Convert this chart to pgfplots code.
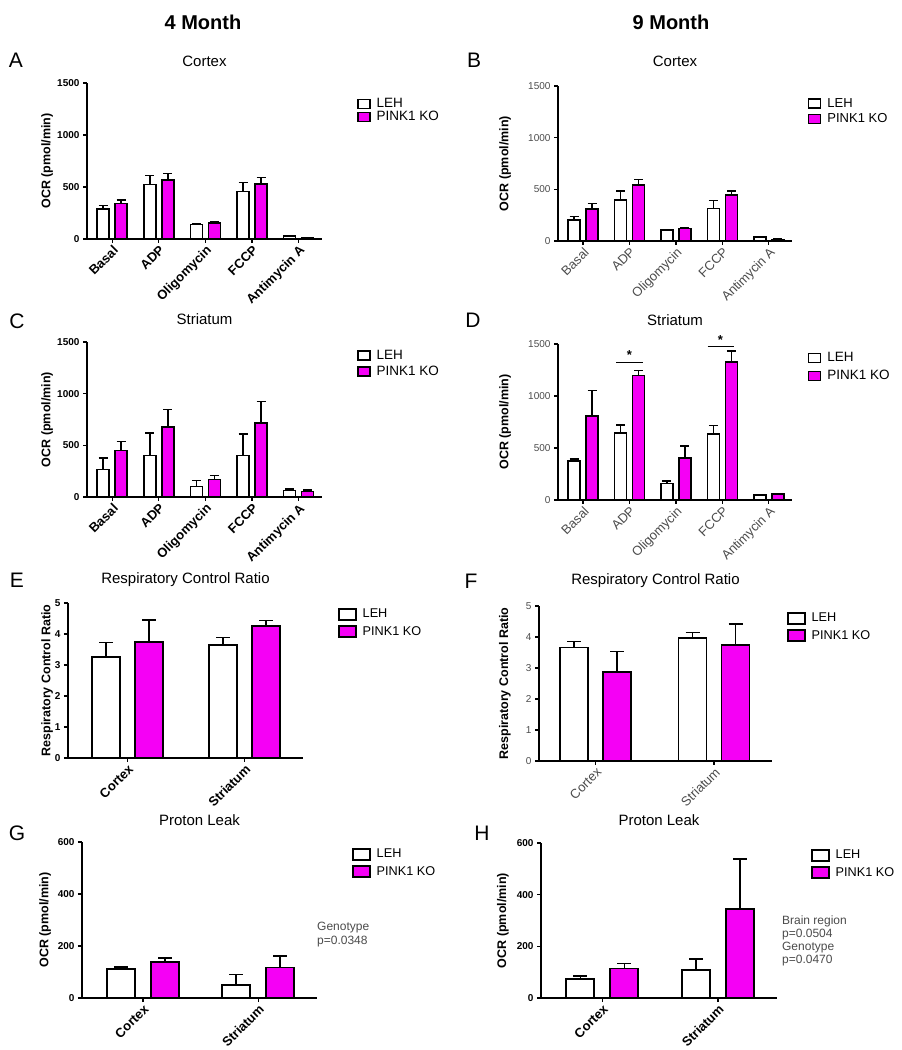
\documentclass[border=0pt]{standalone}
\usepackage{fontspec}
\setmainfont{Liberation Sans}
\usepackage{pgfplots}
\pgfplotsset{compat=1.18}
\definecolor{pk}{RGB}{245,0,245}
\definecolor{lg}{RGB}{75,75,75}
\newcommand{\fsz}[1]{\fontsize{#1}{#1}\selectfont}
\pgfplotsset{
 panel/.style={
  scale only axis, anchor=south west, ybar, clip=false,
  axis x line*=bottom, axis y line*=left,
  x axis line style={-}, y axis line style={-},
  axis line style={line width=1.5pt, black},
  tick style={black, line width=1.2pt},
  tick align=outside, major tick length=4pt,
  ymin=0,
  /pgf/number format/assume math mode=true,
  /pgf/number format/1000 sep={},
  ylabel style={font=\fsz{12.5}\bfseries, anchor=center},
  title style={font=\fsz{15}, anchor=center, yshift=-6pt},
  legend style={draw=none, fill=none, inner sep=0pt, anchor=north west, cells={anchor=west},
    /tikz/every odd column/.append style={column sep=4pt}},
  legend cell align=left,
  error bars/y dir=plus, error bars/y explicit,
  error bars/error bar style={line width=1.4pt, black},
  error bars/error mark options={rotate=90, line width=1.4pt, mark size=4.5pt, black},
 },
 lehA/.style={fill=white, draw=black, line width=1.5pt,
   legend image code/.code={\draw[##1, line width=1.3pt] (0pt,-4.5pt) rectangle (12pt,4.5pt);}},
 pkoA/.style={fill=pk, draw=black, line width=1.5pt,
   legend image code/.code={\draw[##1, line width=1.3pt] (0pt,-4.5pt) rectangle (12pt,4.5pt);}},
 lehE/.style={fill=white, draw=black, line width=1.8pt,
   legend image code/.code={\draw[##1, line width=1.5pt] (0pt,-5.5pt) rectangle (17pt,5.5pt);}},
 pkoE/.style={fill=pk, draw=black, line width=1.8pt,
   legend image code/.code={\draw[##1, line width=1.5pt] (0pt,-5.5pt) rectangle (17pt,5.5pt);}},
 boldlab/.style={
   xticklabel style={rotate=45, anchor=north east, font=\fsz{13}\bfseries, inner sep=1pt},
   yticklabel style={font=\fsz{10}\bfseries}},
 thinlab/.style={
   xticklabel style={rotate=45, anchor=north east, font=\fsz{13}, text=lg, inner sep=1pt},
   yticklabel style={font=\fsz{10}, text=lg}},
 ocr/.style={xmin=-0.54, xmax=4.5, ymax=1500, ytick={0,500,1000,1500},
   xtick={0,...,4}, xticklabels={Basal,ADP,Oligomycin,FCCP,Antimycin A},
   bar width=12pt, ylabel={OCR (pmol/min)}},
 two/.style={xtick={0,1}, xticklabels={Cortex,Striatum}, bar width=28pt,
   error bars/error mark options={rotate=90, line width=1.6pt, mark size=7pt, black},
   error bars/error bar style={line width=1.6pt, black}},
}
\begin{document}
\begin{tikzpicture}
\path[use as bounding box] (0pt,0pt) rectangle (902pt,1050pt);
\node[font=\fsz{20}\bfseries] at (203pt,1028pt) {4 Month};
\node[font=\fsz{20}\bfseries] at (671pt,1028pt) {9 Month};
\node[font=\fsz{21}] at (16pt,990pt) {A};
\node[font=\fsz{21}] at (474pt,990pt) {B};
\node[font=\fsz{21}] at (17pt,729pt) {C};
\node[font=\fsz{21}] at (473pt,730pt) {D};
\node[font=\fsz{21}] at (17pt,470pt) {E};
\node[font=\fsz{21}] at (471pt,469pt) {F};
\node[font=\fsz{21}] at (17pt,217pt) {G};
\node[font=\fsz{21}] at (482pt,217pt) {H};

% A
\begin{axis}[panel, ocr, boldlab, at={(87pt,811pt)}, width=235pt, height=156pt,
  title={Cortex}, title style={at={(0.5,1.141)}},
  ylabel style={at={(axis description cs:-0.17,0.5)}},
  legend style={at={(1.149,0.915)}, font=\fsz{13.5}, row sep=-2pt}]
\addplot[lehA, bar shift=-9pt] coordinates {(0,290) +- (0,30) (1,525) +- (0,83) (2,140) +- (0,10) (3,455) +- (0,88) (4,30) +- (0,5)};
\addplot[pkoA, bar shift=9pt] coordinates {(0,340) +- (0,35) (1,565) +- (0,65) (2,155) +- (0,15) (3,530) +- (0,60) (4,12) +- (0,4)};
\legend{LEH, PINK1 KO}
\end{axis}

% B
\begin{axis}[panel, ocr, thinlab, at={(558pt,809pt)}, width=234pt, height=155pt,
  title={Cortex}, title style={at={(0.5,1.161)}},
  ylabel style={at={(axis description cs:-0.226,0.5)}},
  legend style={at={(1.068,0.935)}, font=\fsz{13}, row sep=1pt}]
\addplot[lehA, bar shift=-9pt] coordinates {(0,203) +- (0,32) (1,395) +- (0,90) (2,106) +- (0,6) (3,315) +- (0,74) (4,40) +- (0,4)};
\addplot[pkoA, bar shift=9pt] coordinates {(0,309) +- (0,54) (1,540) +- (0,55) (2,122) +- (0,6) (3,444) +- (0,38) (4,15) +- (0,3)};
\legend{LEH, PINK1 KO}
\end{axis}

% C
\begin{axis}[panel, ocr, boldlab, at={(87pt,553pt)}, width=235pt, height=155pt,
  title={Striatum}, title style={at={(0.5,1.148)}},
  ylabel style={at={(axis description cs:-0.17,0.5)}},
  legend style={at={(1.149,0.961)}, font=\fsz{13.5}, row sep=1pt}]
\addplot[lehA, bar shift=-9pt] coordinates {(0,265) +- (0,112) (1,403) +- (0,216) (2,103) +- (0,58) (3,403) +- (0,207) (4,61) +- (0,16)};
\addplot[pkoA, bar shift=9pt] coordinates {(0,448) +- (0,91) (1,677) +- (0,168) (2,168) +- (0,42) (3,716) +- (0,210) (4,55) +- (0,13)};
\legend{LEH, PINK1 KO}
\end{axis}

% D
\begin{axis}[panel, ocr, thinlab, at={(558pt,550pt)}, width=234pt, height=156pt,
  title={Striatum}, title style={at={(0.5,1.154)}},
  ylabel style={at={(axis description cs:-0.226,0.5)}},
  legend style={at={(1.068,0.96)}, font=\fsz{13.5}, row sep=3pt}]
\addplot[lehA, bar shift=-9pt] coordinates {(0,376) +- (0,19) (1,643) +- (0,80) (2,161) +- (0,22) (3,633) +- (0,81) (4,48) +- (0,4)};
\addplot[pkoA, bar shift=9pt] coordinates {(0,810) +- (0,245) (1,1196) +- (0,48) (2,402) +- (0,119) (3,1325) +- (0,106) (4,58) +- (0,4)};
\legend{LEH, PINK1 KO}
\draw[line width=1.3pt] (axis cs:0.713,1325) -- (axis cs:1.296,1325);
\draw[line width=1.3pt] (axis cs:2.68,1478) -- (axis cs:3.24,1478);
\node[font=\fsz{13}\bfseries] at (axis cs:1.0,1395) {*};
\node[font=\fsz{13}\bfseries] at (axis cs:2.96,1540) {*};
\end{axis}

% E
\begin{axis}[panel, two, boldlab, at={(68pt,292pt)}, width=235pt, height=155pt,
  xmin=-0.51, xmax=1.5, ymax=5, ytick={0,1,2,3,4,5},
  title={Respiratory Control Ratio}, title style={at={(0.5,1.148)}},
  ylabel={Respiratory Control Ratio}, ylabel style={at={(axis description cs:-0.089,0.5)}},
  legend style={at={(1.149,0.974)}, font=\fsz{12.7}, row sep=3pt}]
\addplot[lehE, bar shift=-21.5pt] coordinates {(0,3.27) +- (0,0.46) (1,3.64) +- (0,0.25)};
\addplot[pkoE, bar shift=21.5pt] coordinates {(0,3.75) +- (0,0.71) (1,4.25) +- (0,0.19)};
\legend{LEH, PINK1 KO}
\end{axis}

% F
\begin{axis}[panel, two, thinlab, at={(539pt,289pt)}, width=233pt, height=155pt,
  xmin=-0.48, xmax=1.49, ymax=5, ytick={0,1,2,3,4,5},
  title={Respiratory Control Ratio}, title style={at={(0.5,1.161)}},
  ylabel={Respiratory Control Ratio}, ylabel style={at={(axis description cs:-0.146,0.5)}},
  legend style={at={(1.064,0.968)}, font=\fsz{12.7}, row sep=3pt}]
\addplot[lehE, bar shift=-21.5pt] coordinates {(0,3.66) +- (0,0.19) (1,3.98) +- (0,0.16)};
\addplot[pkoE, bar shift=21.5pt] coordinates {(0,2.88) +- (0,0.65) (1,3.74) +- (0,0.68)};
\legend{LEH, PINK1 KO}
\end{axis}

% G
\begin{axis}[panel, two, boldlab, at={(82pt,52pt)}, width=235pt, height=156pt,
  xmin=-0.53, xmax=1.51, ymax=600, ytick={0,200,400,600},
  title={Proton Leak}, title style={at={(0.5,1.141)}},
  ylabel={OCR (pmol/min)}, ylabel style={at={(axis description cs:-0.157,0.5)}},
  legend style={at={(1.149,0.968)}, font=\fsz{12.7}, row sep=3pt}]
\addplot[lehE, bar shift=-22pt] coordinates {(0,111) +- (0,9) (1,51) +- (0,39)};
\addplot[pkoE, bar shift=22pt] coordinates {(0,139) +- (0,15) (1,117) +- (0,45)};
\legend{LEH, PINK1 KO}
\node[anchor=north west, align=left, font=\fontsize{12}{14}\selectfont, text=lg, inner sep=0pt]
  at (rel axis cs:1.0,0.49) {Genotype\\p=0.0348};
\end{axis}

% H
\begin{axis}[panel, two, boldlab, at={(541pt,52pt)}, width=236pt, height=155pt,
  xmin=-0.53, xmax=1.51, ymax=600, ytick={0,200,400,600},
  title={Proton Leak}, title style={at={(0.5,1.148)}},
  ylabel={OCR (pmol/min)}, ylabel style={at={(axis description cs:-0.161,0.5)}},
  legend style={at={(1.144,0.968)}, font=\fsz{12.7}, row sep=3pt}]
\addplot[lehE, bar shift=-22pt] coordinates {(0,74) +- (0,12) (1,108) +- (0,44)};
\addplot[pkoE, bar shift=22pt] coordinates {(0,114) +- (0,19) (1,344) +- (0,195)};
\legend{LEH, PINK1 KO}
\node[anchor=north west, align=left, font=\fontsize{12}{13}\selectfont, text=lg, inner sep=0pt]
  at (rel axis cs:1.021,0.529) {Brain region\\p=0.0504\\Genotype\\p=0.0470};
\end{axis}
\end{tikzpicture}
\end{document}
